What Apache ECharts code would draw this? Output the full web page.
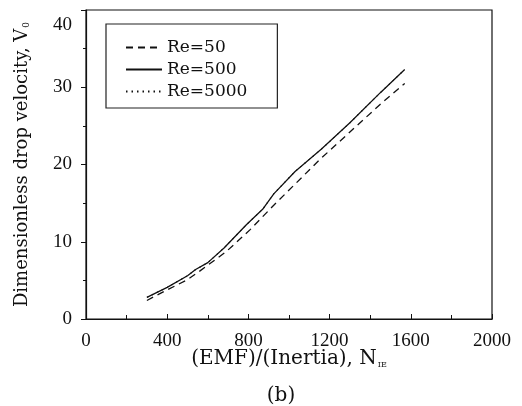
<!DOCTYPE html>
<html><head><meta charset="utf-8">
<script src="https://cdn.jsdelivr.net/npm/echarts@6/dist/echarts.min.js"></script>
<style>html,body{margin:0;padding:0;background:#fff}#c{width:522px;height:406px}</style>
</head><body><div id="c"></div>
<script>
var xTicks = [0, 400, 800, 1200, 1600, 2000];
var yTicks = [0, 10, 20, 30, 40];
var re50 = [[300,2.4],[350,3.1],[500,5.1],[560,6.2],[690,8.7],[810,11.6],[920,14.6],[1020,17.2],[1150,20.6],[1300,24.2],[1450,27.8],[1570,30.5]];
var re500 = [[300,2.8],[400,4.1],[500,5.6],[540,6.4],[600,7.3],[680,9.2],[790,12.2],[870,14.2],[925,16.2],[1030,19.1],[1160,22.0],[1300,25.4],[1450,29.3],[1570,32.3]];
var re5000 = [[300,2.8],[400,4.1],[500,5.6],[540,6.4],[600,7.3],[680,9.2],[790,12.2],[870,14.2],[925,16.2],[1030,19.1],[1160,22.0],[1300,25.4],[1450,29.3],[1570,32.3]];
var names = ['Re=50','Re=500','Re=5000'];
var LF = 'Liberation Serif';
var TF = 'DejaVu Serif';
var C = '#111';
var chart = echarts.init(document.getElementById('c'));
chart.setOption({
  animation:false,
  backgroundColor:'#fff',
  textStyle:{fontFamily:TF,color:C},
  grid:{left:86,right:30,top:10,bottom:87,show:true,borderColor:C,borderWidth:1.2,backgroundColor:'transparent'},
  legend:{left:106,top:24,orient:'vertical',padding:[15,30,8,19],itemGap:5,itemWidth:36,itemHeight:14,
    borderColor:'#222',borderWidth:1.2,itemStyle:{opacity:0},
    textStyle:{fontFamily:TF,fontSize:17,color:C},data:names},
  xAxis:{type:'value',min:0,max:2000,interval:400,
    axisLine:{show:true,lineStyle:{color:C,width:1.2}},
    axisTick:{show:true,inside:true,length:5,lineStyle:{color:C}},
    minorTick:{show:true,splitNumber:2,length:4,lineStyle:{color:C}},
    splitLine:{show:false},
    axisLabel:{fontFamily:LF,fontSize:19,color:C,margin:13,formatter:function(v){return xTicks.indexOf(v)>=0?String(v):'';}},
    name:'{a|(EMF)/(Inertia), N}{s|IE}',nameLocation:'middle',nameGap:30,nameMoveOverlap:false,
    nameTextStyle:{rich:{a:{fontFamily:TF,fontSize:20,color:C},s:{fontFamily:TF,fontSize:8,color:C,verticalAlign:'bottom',padding:[10,0,0,1]}}}},
  yAxis:{type:'value',min:0,max:40,interval:10,
    axisLine:{show:true,lineStyle:{color:C,width:1.2}},
    axisTick:{show:true,inside:false,length:5,lineStyle:{color:C}},
    minorTick:{show:true,splitNumber:2,length:3,lineStyle:{color:C}},
    splitLine:{show:false},
    axisLabel:{fontFamily:LF,fontSize:19,color:C,margin:14,
      formatter:function(v){if(yTicks.indexOf(v)<0)return ''; return v===40?'{d|40}':String(v);},
      rich:{d:{fontFamily:LF,fontSize:19,color:C,padding:[30,0,0,0]}}},
    name:'{a|Dimensionless drop velocity, V}{s|0}',nameLocation:'middle',nameGap:55,nameMoveOverlap:false,
    nameTextStyle:{rich:{a:{fontFamily:TF,fontSize:18,color:C},s:{fontFamily:TF,fontSize:9,color:C,verticalAlign:'bottom',padding:[8,0,0,1]}}}},
  graphic:[{type:'text',x:281,y:396,style:{text:'(b)',font:'20px "DejaVu Serif"',fill:C,textAlign:'center',textVerticalAlign:'middle'}}],
  series:[
    {name:names[0],type:'line',data:re50,symbol:'none',lineStyle:{color:C,width:1.3,type:[7,5]},itemStyle:{color:C}},
    {name:names[1],type:'line',data:re500,symbol:'none',lineStyle:{color:C,width:1.3,type:'solid'},itemStyle:{color:C}},
    {name:names[2],type:'line',data:re5000,symbol:'none',lineStyle:{color:C,width:1.1,type:[1.5,4]},itemStyle:{color:C}}
  ]
});
</script></body></html>
